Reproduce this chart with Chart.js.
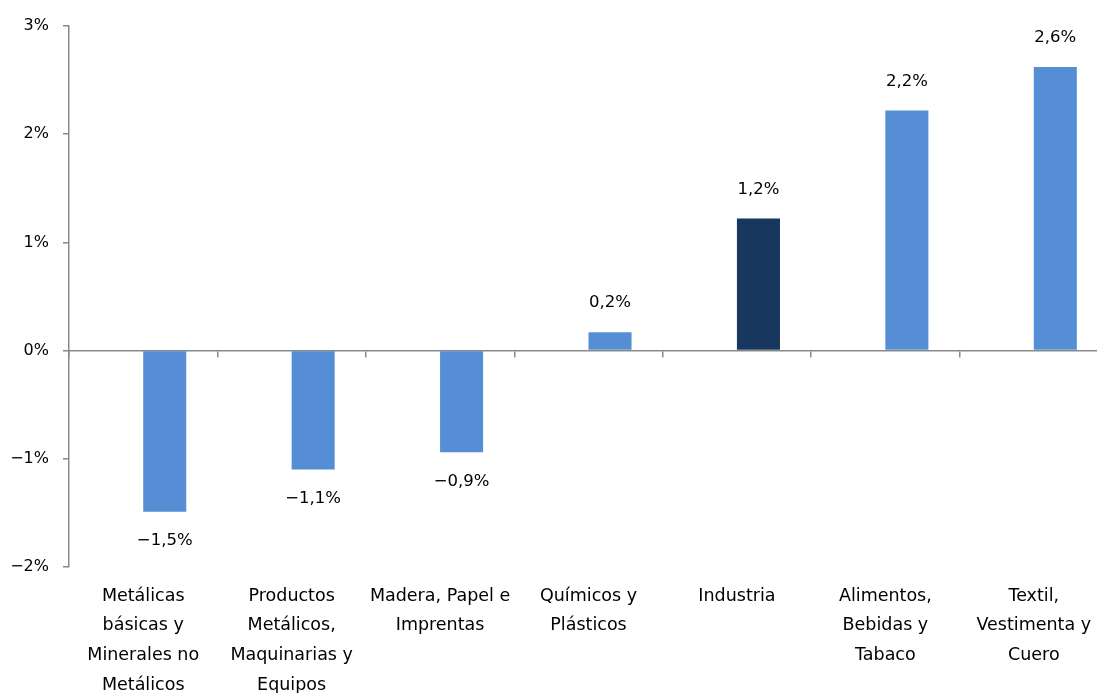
<!DOCTYPE html>
<html>
<head>
<meta charset="utf-8">
<script src="https://cdn.jsdelivr.net/npm/chart.js@4/dist/chart.umd.min.js"></script>
<style>
  html, body { margin: 0; background: #fff; overflow: hidden; }
  #outer { width: 1097px; height: 693px; overflow: hidden; position: relative; }
  #wrap { width: 1108px; height: 693px; position: absolute; left: 0; top: 0; }
</style>
</head>
<body>
<div id="outer"><div id="wrap"><canvas id="chart"></canvas></div></div>
<script>
const categories = [
    ["Metálicas", "básicas y", "Minerales no", "Metálicos"],
    ["Productos", "Metálicos,", "Maquinarias y", "Equipos"],
    ["Madera, Papel e", "Imprentas"],
    ["Químicos y", "Plásticos"],
    ["Industria"],
    ["Alimentos,", "Bebidas y", "Tabaco"],
    ["Textil,", "Vestimenta y", "Cuero"]
];
const variation = [-1.49, -1.10, -0.94, 0.17, 1.22, 2.22, 2.62];
const valueLabels = ["−1,5%", "−1,1%", "−0,9%", "0,2%", "1,2%", "2,2%", "2,6%"];
const barColors = ["#558ED5", "#558ED5", "#558ED5", "#558ED5", "#17375E", "#558ED5", "#558ED5"];
const emptySlot = [null, null, null, null, null, null, null];

const axisGray = "#898989";
const fontFamily = "'DejaVu Sans', Verdana, sans-serif";

// writes the value above / below each bar
const valueLabelPlugin = {
    id: "valueLabels",
    afterDatasetsDraw(chart) {
        const ctx = chart.ctx;
        const meta = chart.getDatasetMeta(1);
        ctx.save();
        ctx.font = "16.5px " + fontFamily;
        ctx.fillStyle = "#000";
        ctx.textAlign = "center";
        ctx.textBaseline = "middle";
        meta.data.forEach((bar, i) => {
            const offset = variation[i] >= 0 ? -29 : 29;
            ctx.fillText(valueLabels[i], bar.x, bar.y + offset);
        });
        ctx.restore();
    }
};

const ctx = document.getElementById("chart");

const chart = new Chart(ctx, {
    type: "bar",
    data: {
        labels: categories,
        datasets: [
            {
                data: emptySlot,
                backgroundColor: "rgba(0,0,0,0)"
            },
            {
                data: variation,
                backgroundColor: barColors
            }
        ]
    },
    options: {
        responsive: true,
        maintainAspectRatio: false,
        animation: false,
        layout: {
            padding: { top: 26, right: 0, left: 0, bottom: 0 }
        },
        datasets: {
            bar: {
                categoryPercentage: 0.58,
                barPercentage: 1.0
            }
        },
        scales: {
            x: {
                type: "category",
                offset: true,
                grid: { display: false },
                border: { display: false },
                ticks: {
                    color: "#000",
                    padding: 6,
                    maxRotation: 0,
                    autoSkip: false,
                    font: { family: fontFamily, size: 17.5, lineHeight: 1.71 }
                },
                afterFit: scale => { scale.height = 126; }
            },
            zeroAxis: {
                type: "category",
                axis: "x",
                position: { y: 0 },
                offset: true,
                labels: categories,
                grid: {
                    offset: true,
                    drawOnChartArea: false,
                    drawTicks: true,
                    tickLength: 6,
                    color: axisGray,
                    lineWidth: 1.5
                },
                border: { display: true, color: axisGray, width: 1.5 },
                ticks: { display: false }
            },
            y: {
                min: -2,
                max: 3,
                ticks: {
                    stepSize: 1,
                    color: "#000",
                    padding: 14,
                    font: { family: fontFamily, size: 16 },
                    callback: v => (v < 0 ? "−" + Math.abs(v) : v) + "%"
                },
                grid: {
                    drawOnChartArea: false,
                    drawTicks: true,
                    tickLength: 6,
                    color: axisGray,
                    lineWidth: 1.5
                },
                border: { display: true, color: axisGray, width: 1.5 },
                afterFit: scale => { scale.width = 69; }
            }
        },
        plugins: {
            legend: { display: false },
            tooltip: { enabled: false }
        }
    },
    plugins: [valueLabelPlugin]
});
</script>
</body>
</html>
